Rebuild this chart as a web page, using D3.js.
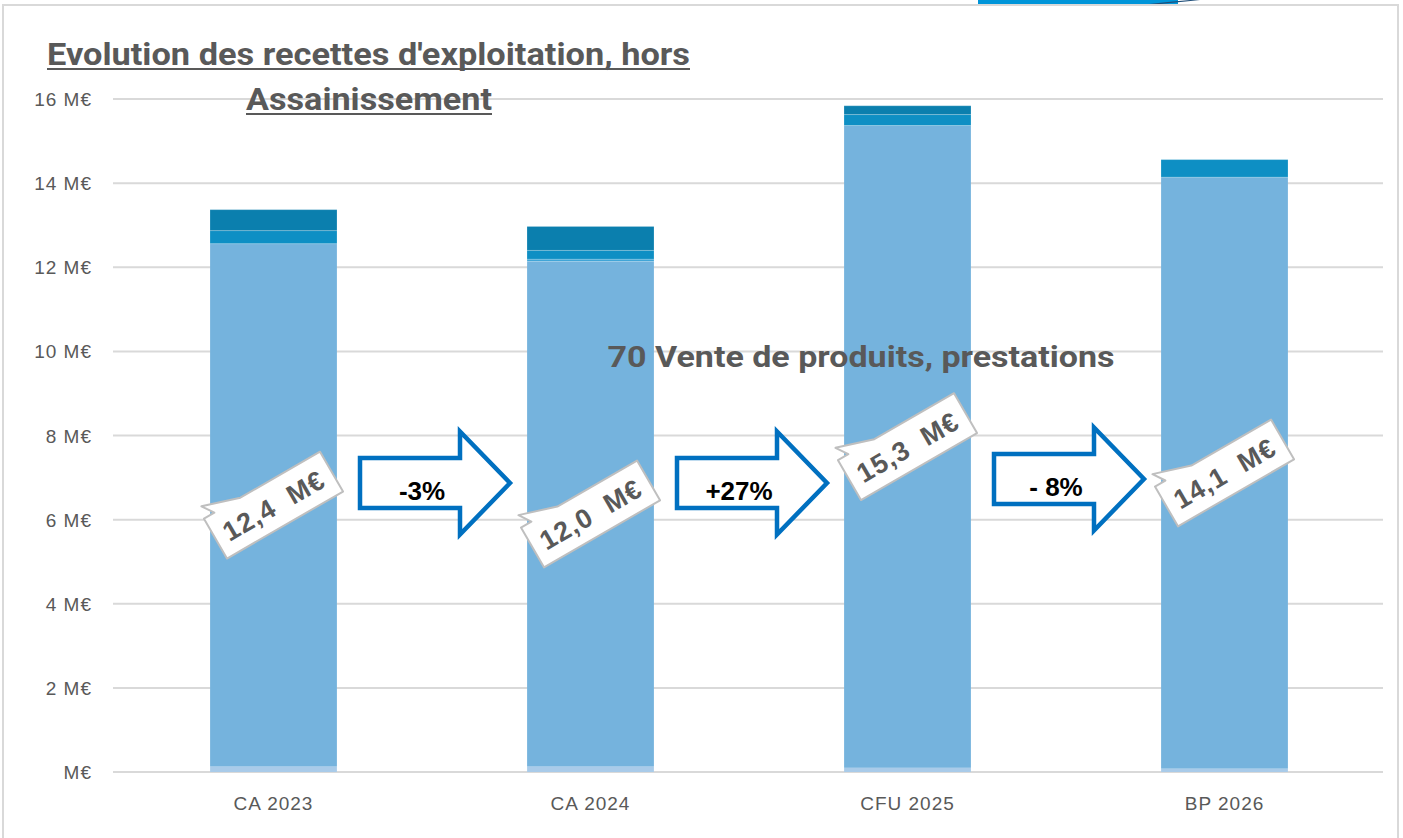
<!DOCTYPE html>
<html>
<head>
<meta charset="utf-8">
<script src="https://cdn.jsdelivr.net/npm/d3@7"></script>
<style>
  body { margin: 0; background: #fff; }
  svg { display: block; font-family: "Liberation Sans", Arial, sans-serif; }
</style>
</head>
<body>
<div id="chart"></div>
<script>
const width = 1403;
const height = 838;

// data (M€), stacked bottom to top
const years = ['CA 2023', 'CA 2024', 'CFU 2025', 'BP 2026'];
const seriesNames = ['013 Atténuations de charges', '70 Vente de produits, prestations',
  '77 Produits exceptionnels', '74 Dotations et participations', '75 Autres produits'];
const attenuations = [0.13, 0.13, 0.10, 0.08];
const ventes = [12.43, 12.01, 15.27, 14.06];
const exceptionnels = [0, 0.05, 0, 0];
const dotations = [0.31, 0.21, 0.26, 0.42];
const autres = [0.50, 0.57, 0.21, 0];
const seriesColors = ['#a9cbe9', '#75b3dd', '#3aa2d6', '#0e8fc4', '#0b7fae'];
const valueLabels = ['12,4  M€', '12,0  M€', '15,3  M€', '14,1  M€'];
const evolLabels = ['-3%', '+27%', '- 8%'];
const yTicks = [0, 2, 4, 6, 8, 10, 12, 14, 16];

const table = years.map((y, i) => ({
  year: y,
  [seriesNames[0]]: attenuations[i],
  [seriesNames[1]]: ventes[i],
  [seriesNames[2]]: exceptionnels[i],
  [seriesNames[3]]: dotations[i],
  [seriesNames[4]]: autres[i]
}));

const svg = d3.select('#chart').append('svg')
  .attr('width', width)
  .attr('height', height);

// piece of the next slide shape peeking at the top
svg.append('rect').attr('x', 978).attr('y', 0).attr('width', 200).attr('height', 5).attr('fill', '#0095d9');
svg.append('path').attr('d', 'M1140,5 Q1165,2 1190,0 L1200,0 Q1170,3 1150,5 Z').attr('fill', '#1f4e79');

// frame
svg.append('rect')
  .attr('x', 3).attr('y', 5).attr('width', 1395).attr('height', 840)
  .attr('fill', '#fff').attr('stroke', '#d9d9d9').attr('stroke-width', 2);

const x = d3.scaleBand().domain(years).range([115, 1383]).paddingInner(0.6).paddingOuter(0.3);
const y = d3.scaleLinear().domain([0, 16]).range([772, 99]);

// grid
svg.append('g').selectAll('line').data(yTicks).join('line')
  .attr('x1', 113).attr('x2', 1383)
  .attr('y1', d => y(d)).attr('y2', d => y(d))
  .attr('stroke', '#d9d9d9').attr('stroke-width', 2);

// y axis labels
svg.append('g').selectAll('text').data(yTicks).join('text')
  .attr('x', 92).attr('y', d => y(d) + 7)
  .attr('text-anchor', 'end')
  .attr('font-size', 19).attr('letter-spacing', 1).attr('fill', '#595959')
  .text(d => d === 0 ? 'M€' : `${d} M€`);

// x axis labels
svg.append('g').selectAll('text').data(years).join('text')
  .attr('x', d => x(d) + x.bandwidth() / 2).attr('y', 810)
  .attr('text-anchor', 'middle')
  .attr('font-size', 19).attr('letter-spacing', 1).attr('fill', '#595959')
  .text(d => d);

// stacked bars
const stack = d3.stack().keys(seriesNames);
const stacked = stack(table);

svg.append('g').selectAll('g').data(stacked).join('g')
  .attr('fill', (d, i) => seriesColors[i])
  .selectAll('rect').data(d => d).join('rect')
  .attr('x', d => x(d.data.year))
  .attr('width', x.bandwidth())
  .attr('y', d => y(d[1]))
  .attr('height', d => y(d[0]) - y(d[1]));

// thin separators between segments
svg.append('g').selectAll('g').data(stacked.slice(1)).join('g')
  .selectAll('line').data(d => d.filter(s => s[1] - s[0] > 0)).join('line')
  .attr('x1', d => x(d.data.year)).attr('x2', d => x(d.data.year) + x.bandwidth())
  .attr('y1', d => y(d[1])).attr('y2', d => y(d[1]))
  .attr('stroke', '#fff').attr('stroke-opacity', 0.25).attr('stroke-width', 1);

// value callouts (centered on the main segment)
const mainSeries = stacked[1];
const callout = svg.append('g').selectAll('g').data(mainSeries).join('g')
  .attr('transform', d => `translate(${x(d.data.year) + x.bandwidth() / 2},${y((d[0] + d[1]) / 2)}) rotate(-30)`);

const bw = 134, bh = 46;
callout.append('path')
  .attr('d', `M${-bw / 2},${bh / 2} L${-bw / 2},${-bh / 2} L${-bw / 2 + 12},${-bh / 2} L${-bw / 2 + 4},${-bh / 2 - 12} L${-bw / 2 + 42},${-bh / 2} L${bw / 2},${-bh / 2} L${bw / 2},${bh / 2} Z`)
  .attr('fill', '#fff').attr('stroke', '#bfbfbf').attr('stroke-width', 2)
  .attr('stroke-linejoin', 'round');

callout.append('text')
  .attr('x', 0).attr('y', 10)
  .attr('text-anchor', 'middle')
  .attr('font-size', 27).attr('font-weight', 'bold').attr('fill', '#595959')
  .attr('letter-spacing', 1)
  .style('white-space', 'pre')
  .text((d, i) => valueLabels[i]);

// evolution arrows
const arrows = evolLabels.map((lab, i) => ({
  label: lab,
  cx: (x(years[i]) + x(years[i + 1]) + x.bandwidth()) / 2 + 3,
  cy: i === 2 ? 479 : 483
}));
const aw = 150, ahw = 50, bodyH = 50, headH = 103;
const arrowG = svg.append('g').selectAll('g').data(arrows).join('g')
  .attr('transform', d => `translate(${d.cx - aw / 2},${d.cy})`);

arrowG.append('path')
  .attr('d', `M0,${-bodyH / 2} L${aw - ahw},${-bodyH / 2} L${aw - ahw},${-headH / 2} L${aw},0 L${aw - ahw},${headH / 2} L${aw - ahw},${bodyH / 2} L0,${bodyH / 2} Z`)
  .attr('fill', '#fff').attr('stroke', '#0070c0').attr('stroke-width', 4.5)
  .attr('stroke-linejoin', 'miter');

arrowG.append('text')
  .attr('x', 62).attr('y', 17)
  .attr('text-anchor', 'middle')
  .attr('font-size', 26).attr('font-weight', 'bold').attr('fill', '#000')
  .style('white-space', 'pre')
  .text(d => d.label);

// series name inside chart
svg.append('text')
  .attr('x', 861).attr('y', 367)
  .attr('text-anchor', 'middle')
  .attr('font-family', 'Roboto, sans-serif')
  .attr('font-size', 29).attr('font-weight', 'bold').attr('fill', '#595959')
  .attr('textLength', 507).attr('lengthAdjust', 'spacingAndGlyphs')
  .text(seriesNames[1]);

// title
const titleLines = [
  { text: "Evolution des recettes d'exploitation, hors", x0: 47, x1: 690, base: 65 },
  { text: 'Assainissement', x0: 246, x1: 492, base: 110 }
];
const tg = svg.append('g');
tg.selectAll('text').data(titleLines).join('text')
  .attr('x', d => d.x0).attr('y', d => d.base)
  .attr('font-family', 'Roboto, sans-serif')
  .attr('font-size', 32).attr('font-weight', 'bold').attr('fill', '#595959')
  .attr('textLength', d => d.x1 - d.x0).attr('lengthAdjust', 'spacingAndGlyphs')
  .text(d => d.text);
tg.selectAll('line').data(titleLines).join('line')
  .attr('x1', d => d.x0).attr('x2', d => d.x1)
  .attr('y1', d => d.base + 4).attr('y2', d => d.base + 4)
  .attr('stroke', '#595959').attr('stroke-width', 2);
</script>
</body>
</html>
